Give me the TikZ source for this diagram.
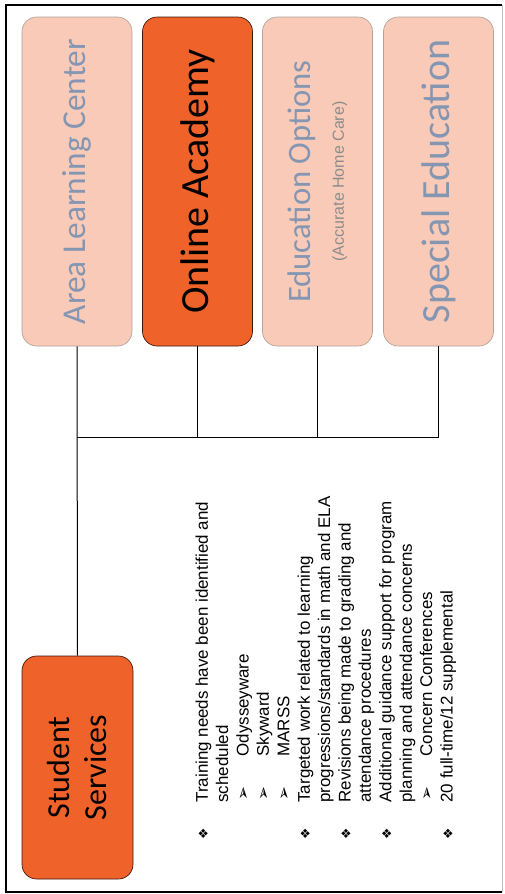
\documentclass[tikz,border=0pt]{standalone}
\usepackage{fontspec}
\setmainfont{Liberation Sans}
\newfontfamily\tilefont{Carlito}
\newfontfamily\dingfont{DejaVu Sans}

\definecolor{tilefill}{RGB}{249,202,184}
\definecolor{tileedge}{RGB}{178,162,152}
\definecolor{tiletext}{RGB}{132,150,178}
\definecolor{hotfill}{RGB}{239,99,43}
\definecolor{hotedge}{RGB}{62,22,10}

\newcommand{\itm}{\makebox[27.75pt][l]{\dingfont\fontsize{9.5}{9.5}\selectfont ❖}}
\newcommand{\cnt}{\hspace*{27.75pt}}
\newcommand{\sbi}{\hspace*{29pt}\makebox[33.25pt][l]{\dingfont\fontsize{12.5}{12.5}\selectfont ➢}}

\tikzset{every picture/.style={line width=0.75pt}}
\tikzset{
  tile/.style={rotate=90, rounded corners=11pt, minimum width=246.75pt, minimum height=82.5pt,
    inner sep=0pt, fill=tilefill, draw=tileedge, line width=0.5pt, text=tiletext, align=center},
  hottile/.style={tile, fill=hotfill, draw=hotedge, text=black},
}

\begin{document}
\begin{tikzpicture}[x=0.75pt,y=0.75pt,yscale=-1,xscale=1]
\useasboundingbox (0,0) rectangle (505,894);

%Frame
\draw [line width=1.9pt] (502,5) -- (6,5) -- (6,892) -- (502,892) ;
\draw [color=black!25] (502,5) -- (502,892) ;

%Programs
\node [tile, font=\tilefont\fontsize{25}{30}\selectfont] (alc) at (77,181.5) {Area Learning Center};
\node [hottile, font=\tilefont\fontsize{30}{34}\selectfont] (oa) at (197.5,181.5) {Online Academy};
\node [tile, font=\tilefont\fontsize{24.5}{27}\selectfont] (eo) at (317.5,181.5) {Education Options\\[-2pt]{\rmfamily\fontsize{12}{14}\selectfont\color{black!45}(Accurate Home Care)}};
\node [tile, font=\tilefont\fontsize{30}{34}\selectfont] (se) at (438.5,181.5) {Special Education};

%Student Services
\node [hottile, minimum width=167.25pt, minimum height=83.25pt, font=\tilefont\fontsize{24}{27.75}\selectfont] (ss) at (77.5,767.5) {Student\\Services};

%Connectors
\coordinate (hub) at (77,437);
\draw (alc.west) -- (ss.east) ;
\draw (oa.west) |- (hub) ;
\draw (eo.west) |- (hub) ;
\draw (se.west) |- (hub) ;

% Text Node
\node [rotate=90, anchor=north west, inner sep=0pt, align=left, font=\fontsize{12.7}{15.3}\selectfont] (notes) at (195,840) {%
\itm Training needs have been identified and\\
\cnt scheduled\\
\sbi Odysseyware\\
\sbi Skyward\\
\sbi MARSS\\
\itm Targeted work related to learning\\
\cnt progressions/standards in math and ELA\\
\itm Revisions being made to grading and\\
\cnt attendance procedures\\
\itm Additional guidance support for program\\
\cnt planning and attendance concerns\\
\sbi Concern Conferences\\
\itm 20 full-time/12 supplemental};

\end{tikzpicture}
\end{document}
